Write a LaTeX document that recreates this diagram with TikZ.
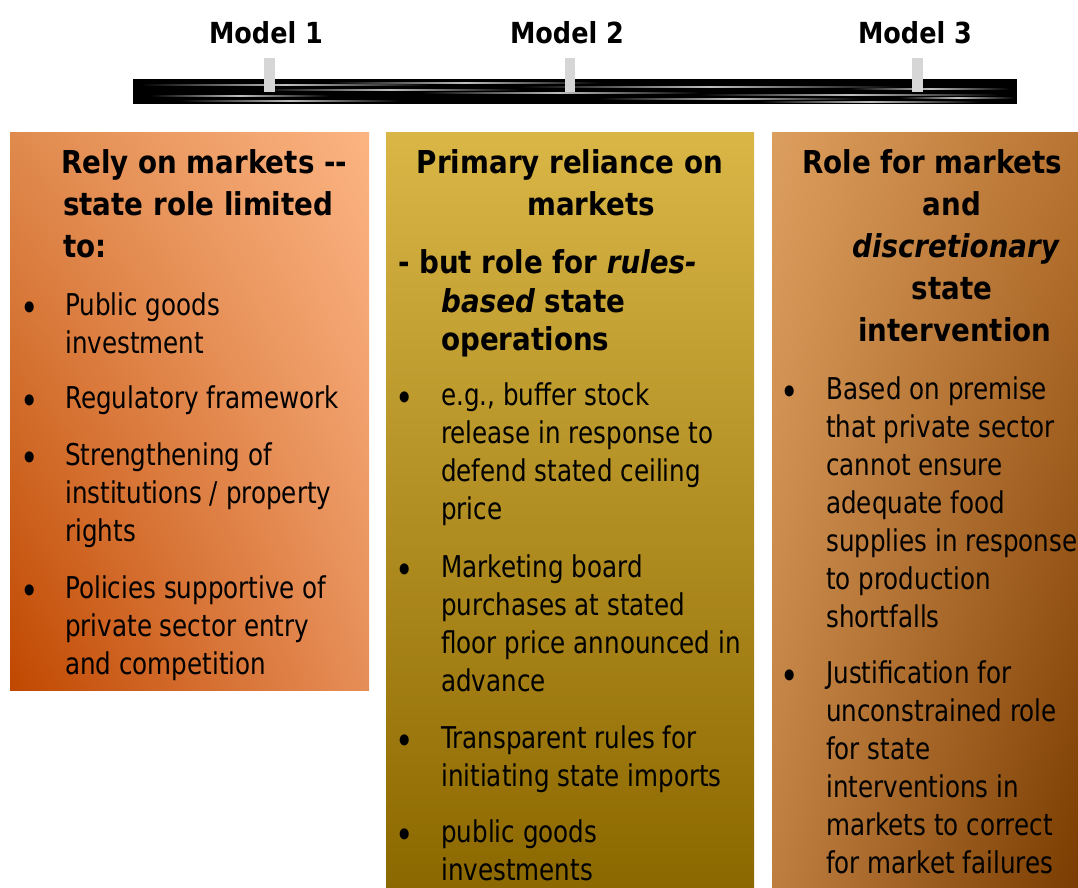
\documentclass[tikz,border=0pt]{standalone}
\usepackage{fontspec}
\usetikzlibrary{shadings}
\newfontfamily\bodyfont{DejaVu Sans}[FakeStretch=0.82]
\newfontfamily\headfont{DejaVu Sans}[FakeStretch=0.88]
\definecolor{tickgray}{HTML}{D6D6D6}
\definecolor{aUR}{HTML}{FCB482}
\definecolor{aLL}{HTML}{C04800}
\definecolor{aUL}{HTML}{E08A4E}
\definecolor{aLR}{HTML}{E68E58}
\definecolor{bTop}{HTML}{D9B646}
\definecolor{bBot}{HTML}{8C6800}
\definecolor{cUL}{HTML}{DC9E5E}
\definecolor{cLR}{HTML}{7A3C00}
\definecolor{cUR}{HTML}{B87432}
\definecolor{cLL}{HTML}{BE7E40}
\tikzset{
  body/.style={anchor=base west, inner sep=0pt, font=\bodyfont\fontsize{30}{38}\selectfont},
  bul/.style={anchor=base, inner sep=0pt, yshift=-6pt, font=\bodyfont\fontsize{38}{38}\selectfont},
  head/.style={anchor=base west, inner sep=0pt, font=\headfont\bfseries\fontsize{31.5}{42}\selectfont},
  headc/.style={anchor=base, inner sep=0pt, font=\headfont\bfseries\fontsize{31.5}{42}\selectfont},
  model/.style={anchor=base, inner sep=0pt, font=\headfont\bfseries\fontsize{29}{35}\selectfont},
  tick/.style={fill=tickgray, draw=none},
  streak/.style={left color=black, right color=black, middle color=gray!50}
}
\begin{document}
\begin{tikzpicture}[x=1pt,y=-1pt]
\useasboundingbox (0,0) rectangle (1078,887);
\fill[white] (0,0) rectangle (1078,887);
% timeline bar
\fill[black] (133,79) rectangle (1017,104);
\foreach \a/\b/\yy in {140/430/84, 260/520/89, 150/330/95, 420/700/92, 520/900/86, 600/860/98, 700/1000/94, 850/1010/88, 180/400/100, 760/980/101, 330/600/82, 900/1015/97}
  \shade[streak] (\a,\yy) rectangle (\b,\yy+1.2);
\fill[tick] (264,58) rectangle (275,92);
\fill[tick] (565,58) rectangle (575,92);
\fill[tick] (912,58) rectangle (923,92);
\node[model] (m1) at (266,43) {Model 1};
\node[model] (m2) at (567,43) {Model 2};
\node[model] (m3) at (915,43) {Model 3};
% boxes
\shade[upper right=aUR, lower left=aLL, upper left=aUL, lower right=aLR] (10,132) rectangle (369,690);
\shade[top color=bTop, bottom color=bBot] (386,132) rectangle (754,887);
\shade[upper left=cUL, lower right=cLR, upper right=cUR, lower left=cLL] (772,132) rectangle (1078,887);
% box 1
\node[head] (t1a) at (61,173) {Rely on markets --};
\node[head] (t1b) at (63,215) {state role limited};
\node[head] (t1c) at (63,257) {to:};
\node[bul] (u1a) at (30,315) {\textbullet};
\node[body] (p1a) at (65,315) {Public goods};
\node[body] (p1b) at (65,353) {investment};
\node[bul] (u1b) at (30,408) {\textbullet};
\node[body] (p1c) at (65,408) {Regulatory framework};
\node[bul] (u1c) at (30,465) {\textbullet};
\node[body] (p1d) at (65,465) {Strengthening of};
\node[body] (p1e) at (65,503) {institutions / property};
\node[body] (p1f) at (65,541) {rights};
\node[bul] (u1d) at (30,598) {\textbullet};
\node[body] (p1g) at (65,598) {Policies supportive of};
\node[body] (p1h) at (65,636) {private sector entry};
\node[body] (p1i) at (65,674) {and competition};
% box 2
\node[headc] (t2a) at (570,173) {Primary reliance on};
\node[headc] (t2b) at (591,215) {markets};
\node[head] (t2c) at (398,273) {- but role for \textit{rules-}};
\node[head] (t2d) at (441,312) {\textit{based} state};
\node[head] (t2e) at (441,350) {operations};
\node[bul] (u2a) at (405,405) {\textbullet};
\node[body] (p2a) at (441,405) {e.g., buffer stock};
\node[body] (p2b) at (441,443) {release in response to};
\node[body] (p2c) at (441,481) {defend stated ceiling};
\node[body] (p2d) at (441,519) {price};
\node[bul] (u2b) at (405,577) {\textbullet};
\node[body] (p2e) at (441,577) {Marketing board};
\node[body] (p2f) at (441,615) {purchases at stated};
\node[body] (p2g) at (441,653) {floor price announced in};
\node[body] (p2h) at (441,691) {advance};
\node[bul] (u2c) at (405,748) {\textbullet};
\node[body] (p2i) at (441,748) {Transparent rules for};
\node[body] (p2j) at (441,786) {initiating state imports};
\node[bul] (u2d) at (405,842) {\textbullet};
\node[body] (p2k) at (441,842) {public goods};
\node[body] (p2l) at (441,880) {investments};
% box 3
\node[head] (t3a) at (802,173) {Role for markets};
\node[headc] (t3b) at (952,215) {and};
\node[head] (t3c) at (852,257) {\textit{discretionary}};
\node[headc] (t3d) at (952,299) {state};
\node[head] (t3e) at (858,341) {intervention};
\node[bul] (u3a) at (790,399) {\textbullet};
\node[body] (p3a) at (826,399) {Based on premise};
\node[body] (p3b) at (826,437) {that private sector};
\node[body] (p3c) at (826,475) {cannot ensure};
\node[body] (p3d) at (826,513) {adequate food};
\node[body] (p3e) at (826,551) {supplies in response};
\node[body] (p3f) at (826,589) {to production};
\node[body] (p3g) at (826,627) {shortfalls};
\node[bul] (u3b) at (790,683) {\textbullet};
\node[body] (p3h) at (826,683) {Justification for};
\node[body] (p3i) at (826,721) {unconstrained role};
\node[body] (p3j) at (826,759) {for state};
\node[body] (p3k) at (826,797) {interventions in};
\node[body] (p3l) at (826,835) {markets to correct};
\node[body] (p3m) at (826,873) {for market failures};
\end{tikzpicture}
\end{document}
